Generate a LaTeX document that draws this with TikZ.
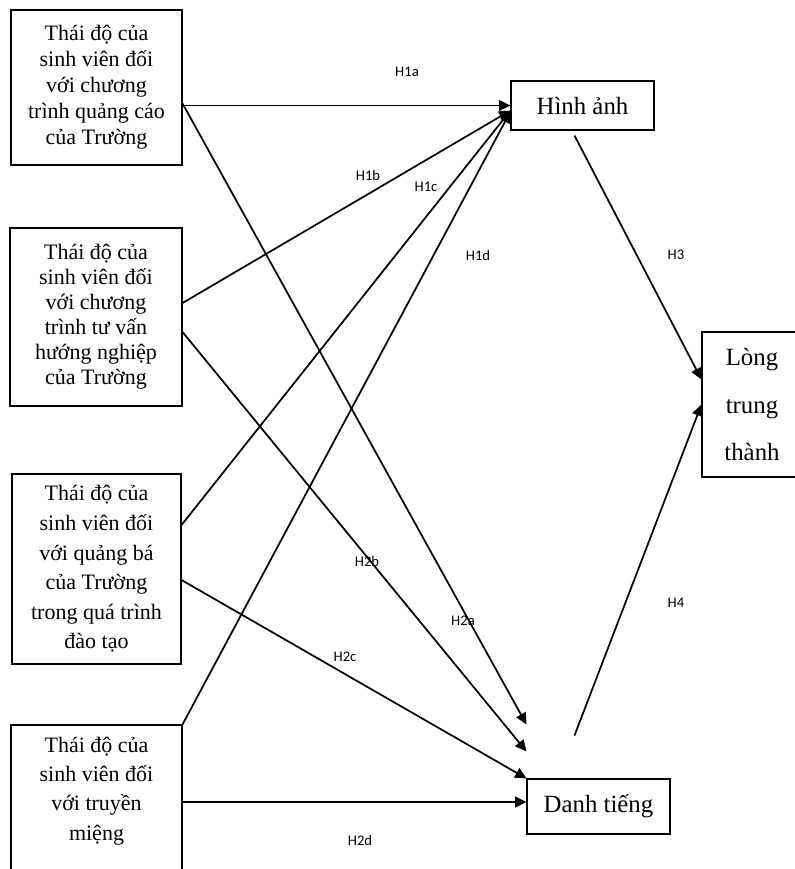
\documentclass[tikz,border=0pt]{standalone}
\usepackage{fontspec}
\setmainfont{Liberation Serif}
\newfontfamily\lblfont{Carlito}
\usetikzlibrary{arrows.meta,calc}
\tikzset{
  biendoc/.style={draw,line width=0.8pt,align=center,inner sep=0pt,font=\fontsize{16.5}{19.5}\selectfont},
  bienphu/.style={draw,line width=0.8pt,align=center,inner sep=0pt,font=\fontsize{18.6}{22}\selectfont},
  nhan/.style={font=\lblfont\fontsize{11}{13}\selectfont,inner sep=0pt},
  muiten/.style={->,line width=1.3pt},
}
\begin{document}
\begin{tikzpicture}[x=0.75pt,y=-0.75pt,>={Triangle[length=8.5pt,width=8pt]}]
                \useasboundingbox (0,0) rectangle (795,869);
                % cac bien doc lap
                \node[biendoc,minimum width=128.25pt,minimum height=116.25pt] (qc) at (96.5,87.5)
                    {Thái độ của\\sinh viên đối\\với chương\\trình quảng cáo\\của Trường};
                \node[biendoc,minimum width=129pt,minimum height=133.5pt,font=\fontsize{16.5}{18.75}\selectfont] (tv) at (96,317)
                    {Thái độ của\\sinh viên đối\\với chương\\trình tư vấn\\hướng nghiệp\\của Trường};
                \node[biendoc,minimum width=126.75pt,minimum height=142.5pt,font=\fontsize{16.5}{22.2}\selectfont] (qb) at (96.5,569)
                    {Thái độ của\\sinh viên đối\\với quảng bá\\của Trường\\trong quá trình\\đào tạo};
                \node[biendoc,minimum width=128.25pt,minimum height=115.5pt,font=\fontsize{16.5}{22}\selectfont] (tm) at (96.5,802)
                    {Thái độ của\\sinh viên đối\\với truyền\\miệng\\[-2pt]\mbox{}};
                \node[bienphu,minimum width=107.25pt,minimum height=36.75pt] (hinhanh) at (582.5,105.5) {Hình ảnh};
                \node[bienphu,minimum width=107.25pt,minimum height=41.25pt] (danhtieng) at (598.5,806.5) {Danh tiếng};
                \node[bienphu,minimum width=75pt,minimum height=108.75pt,font=\fontsize{18.6}{35.6}\selectfont] (longtt) at (752,404.5)
                    {Lòng\\trung\\thành};
                % cac gia thuyet
                \draw[muiten](qc.east |- hinhanh.west)--(hinhanh.west);
                \draw[muiten]($(qc.east)+(0,16)$)--($(danhtieng.north west)+(0,-54)$);
                \draw[muiten]($(tv.east)+(0,-14)$)--($(hinhanh.west)+(0,5)$);
                \draw[muiten]($(tv.east)+(0,15)$)--($(danhtieng.north west)+(0,-27)$);
                \draw[muiten]($(qb.east)+(0,-44)$)--($(hinhanh.west)+(0,5)$);
                \draw[muiten]($(qb.east)+(0,11)$)--(danhtieng.north west);
                \draw[muiten](tm.north east)--($(hinhanh.west)+(0,6)$);
                \draw[muiten](tm.east)--(tm.east -| danhtieng.west);
                \draw[muiten]($(hinhanh.south)+(-8,5)$)--($(longtt.west)+(0,-25)$);
                \draw[muiten]($(danhtieng.north)+(-24,-43)$)--(longtt.west);
                \foreach \n/\x/\y in {H1a/407/72,H1b/368/175,H1c/426/187,H1d/478/255,H3/676/255,
                                      H2b/367/561,H2a/463/621,H2c/345/657,H4/676/603,H2d/360/840}
                    {
                        \node[nhan] (\n) at (\x,\y) {\n};
                    }
\end{tikzpicture}
\end{document}
